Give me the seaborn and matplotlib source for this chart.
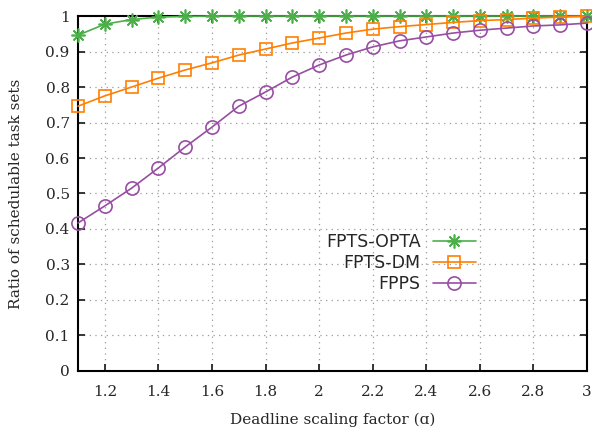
import matplotlib
matplotlib.use("Agg")
import matplotlib.pyplot as plt
import numpy as np
import pandas as pd
import seaborn as sns

# ── data ──────────────────────────────────────────────────────────────────────
alpha = [1.1, 1.2, 1.3, 1.4, 1.5, 1.6, 1.7, 1.8, 1.9, 2.0,
         2.1, 2.2, 2.3, 2.4, 2.5, 2.6, 2.7, 2.8, 2.9, 3.0]
fpts_opta = [0.946, 0.977, 0.990, 0.997, 0.999, 1.0, 1.0, 1.0, 1.0, 1.0,
             1.0, 1.0, 1.0, 1.0, 1.0, 1.0, 1.0, 1.0, 1.0, 1.0]
fpts_dm = [0.746, 0.775, 0.800, 0.825, 0.848, 0.868, 0.890, 0.907, 0.924, 0.938,
           0.952, 0.963, 0.970, 0.976, 0.982, 0.987, 0.990, 0.994, 0.997, 0.999]
fpps = [0.417, 0.465, 0.515, 0.572, 0.631, 0.687, 0.746, 0.786, 0.828, 0.862,
        0.890, 0.913, 0.930, 0.941, 0.952, 0.960, 0.966, 0.972, 0.975, 0.980]
x_ticks = [1.2, 1.4, 1.6, 1.8, 2.0, 2.2, 2.4, 2.6, 2.8, 3.0]
y_ticks = [0, 0.1, 0.2, 0.3, 0.4, 0.5, 0.6, 0.7, 0.8, 0.9, 1.0]

SERIES = [
    ("FPTS-OPTA", fpts_opta, "#4daf4a", (8, 2, 0), 10),
    ("FPTS-DM",   fpts_dm,   "#ff7f00", "s", 9),
    ("FPPS",      fpps,      "#984ea3", "o", 9.5),
]

sns.set_style("ticks")
plt.rcParams.update({
    "font.family": "DejaVu Serif",
    "xtick.direction": "in",
    "ytick.direction": "in",
    "xtick.top": True,
    "ytick.right": True,
    "xtick.major.size": 5,
    "ytick.major.size": 5,
    "xtick.major.width": 1.3,
    "ytick.major.width": 1.3,
    "axes.linewidth": 1.5,
    "axes.edgecolor": "black",
})

fig = plt.figure(figsize=(5.92, 4.34), dpi=100)
ax = fig.add_axes([0.1318, 0.1452, 0.8598, 0.8179])

for name, vals, color, marker, ms in SERIES:
    df = pd.DataFrame({"alpha": alpha, "ratio": vals})
    sns.lineplot(data=df, x="alpha", y="ratio", ax=ax, color=color, lw=1.2,
                 marker=marker, markersize=ms, markerfacecolor="none",
                 markeredgecolor=color, markeredgewidth=1.2, label=name,
                 clip_on=False, zorder=3)

ax.set_xlim(1.1, 3.0)
ax.set_ylim(0, 1.0)
ax.set_xticks(x_ticks)
ax.set_xticklabels([f"{v:g}" for v in x_ticks])
ax.set_yticks(y_ticks)
ax.set_yticklabels([f"{v:g}" for v in y_ticks])
ax.tick_params(labelsize=11, pad=10)
ax.tick_params(axis="y", pad=6)
ax.grid(True, ls=(0, (1, 3.5)), color="#9a9a9a", lw=0.9)
for sp in ax.spines.values():
    sp.set_visible(True)
    sp.set_zorder(2.5)
ax.set_axisbelow(True)

ax.set_xlabel("Deadline scaling factor (ɑ)", fontsize=11, labelpad=10)
ax.set_ylabel("Ratio of schedulable task sets", fontsize=11, labelpad=16)

leg = ax.legend(loc="center right", bbox_to_anchor=(0.806, 0.304), frameon=False,
                markerfirst=False, alignment="right", handlelength=2.5,
                labelspacing=0.15, handletextpad=0.7, borderpad=0.2,
                prop={"family": "DejaVu Sans", "size": 12.5})

fig.savefig("out.png", dpi=100)
